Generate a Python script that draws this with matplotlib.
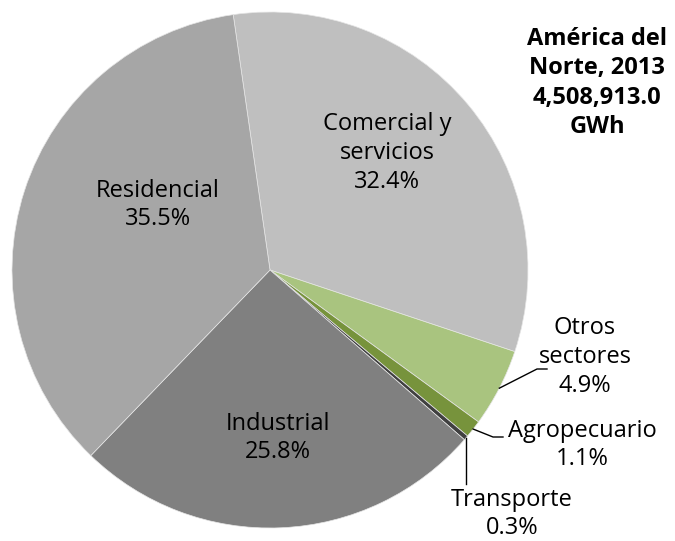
import numpy as np
import matplotlib
matplotlib.use('Agg')
import matplotlib.pyplot as plt

# datos: consumo electrico por sector, America del Norte 2013
sectores = ['Comercial y\nservicios', 'Otros\nsectores', 'Agropecuario', 'Transporte', 'Industrial', 'Residencial']
porcentajes = [32.4, 4.9, 1.1, 0.3, 25.8, 35.5]
colores = ['#bfbfbf', '#a9c47f', '#77933c', '#404040', '#808080', '#a6a6a6']
titulo = 'América del\nNorte, 2013\n4,508,913.0\nGWh'

plt.rcParams['font.family'] = ['Open Sans', 'DejaVu Sans']
fntsize = 17

W, H = 675, 541
cx, cy, R = 270, 270, 258   # centro y radio en pixeles

fig = plt.figure(figsize=(W/100, H/100), dpi=100)
ax = fig.add_axes([0, 0, 1, 1])

wedges, _ = ax.pie(porcentajes, colors=colores, startangle=98.2, counterclock=False,
                   radius=1, wedgeprops=dict(edgecolor='#e6e6e6', linewidth=0.5))
ax.set_xlim(-cx/R, (W-cx)/R)
ax.set_ylim(-(H-cy)/R, cy/R)
ax.set_aspect('equal')
ax.axis('off')

def px(x, y):
    return ((x-cx)/R, (cy-y)/R)

lbl = [s + '\n%.1f%%' % p for s, p in zip(sectores, porcentajes)]
ls = 1.25

# etiquetas dentro del pastel
ax.text(*px(387, 153), lbl[0], ha='center', va='center', fontsize=fntsize, linespacing=ls)
ax.text(*px(158, 205), lbl[5], ha='center', va='center', fontsize=fntsize, linespacing=ls)
ax.text(*px(278, 438), lbl[4], ha='center', va='center', fontsize=fntsize, linespacing=ls)

# etiquetas externas con lineas guia
def borde(w):
    th = np.deg2rad((w.theta1 + w.theta2) / 2)
    return np.cos(th), np.sin(th)

x0, y0 = borde(wedges[1])
ex, ey = px(537, 369)
fx, _ = px(547, 369)
ax.plot([x0, ex, fx], [y0, ey, ey], color='black', lw=1)
ax.text(*px(585, 357), lbl[1], ha='center', va='center', fontsize=fntsize, linespacing=ls)

x0, y0 = borde(wedges[2])
ex, ey = px(493, 437)
fx, _ = px(503, 437)
ax.plot([x0, ex, fx], [y0, ey, ey], color='black', lw=1)
ax.text(*px(582, 445), lbl[2], ha='center', va='center', fontsize=fntsize, linespacing=ls)

x0, y0 = borde(wedges[3])
_, ey = px(0, 484)
ax.plot([x0, x0], [y0, ey], color='black', lw=1)
ax.text(*px(512, 514), lbl[3], ha='center', va='center', fontsize=fntsize, linespacing=ls)

ax.text(*px(597, 83), titulo, ha='center', va='center', fontsize=17,
        fontweight='bold', linespacing=1.3)

fig.savefig('out.png', dpi=100)
